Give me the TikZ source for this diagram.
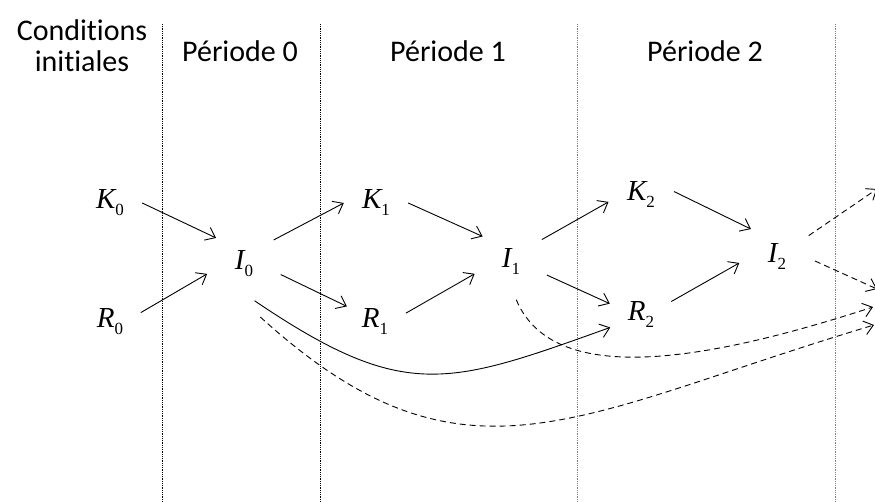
\documentclass[tikz,border=0pt]{standalone}
\usepackage{fontspec}
\setmainfont{Carlito}[Ligatures=NoCommon]
\newfontfamily\timesfont{Liberation Serif}
\usetikzlibrary{arrows.meta, positioning}
\newcommand{\varsub}[2]{{\itshape #1}\raisebox{-7pt}{\fontsize{17}{17}\selectfont #2}}
\tikzset{
    period/.style={font=\fontsize{30}{31}\selectfont, anchor=base},
    var/.style={circle, inner sep=0pt, minimum size=64pt, font=\timesfont\fontsize{29}{29}\selectfont},
    invest/.style={var, minimum size=76pt},
    arr/.style={line width=0.9pt, -{Straight Barb[length=9pt, width=14pt]}},
    dasharr/.style={arr, dash pattern=on 6pt off 4pt},
    sepline/.style={line width=0.9pt, dash pattern=on 0.9pt off 0.9pt}
}

\begin{document}
\begin{tikzpicture}[x=1pt, y=-1pt]
        \useasboundingbox (0,0) rectangle (875,502);

        % Period separators
        \foreach \x/\c in {162/black, 320/black, 577/gray, 835/gray} {
            \draw[sepline, \c] (\x, 24) -- (\x, 502);
        }

        % Headers
        \node[align=center, font=\fontsize{30}{31}\selectfont] (cond) at (82, 46) {Conditions\\initiales};
        \node[period] (p0) at (240, 62) {Période 0};
        \node[period] (p1) at (448, 62) {Période 1};
        \node[period] (p2) at (705, 62) {Période 2};

        % Variables
        \node[var] (K0) at (110, 203) {\varsub{K}{0}};
        \node[var] (R0) at (110, 322) {\varsub{R}{0}};
        \node[invest] (I0) at (244, 264) {\varsub{I}{0}};
        \node[var] (K1) at (376, 203) {\varsub{K}{1}};
        \node[var] (R1) at (375, 322) {\varsub{R}{1}};
        \node[invest] (I1) at (511, 262) {\varsub{I}{1}};
        \node[var, minimum size=66pt] (K2) at (641, 195) {\varsub{K}{2}};
        \node[var, minimum size=66pt] (R2) at (641, 315) {\varsub{R}{2}};
        \node[invest] (I2) at (777, 257) {\varsub{I}{2}};

        % Next period (off the page)
        \coordinate (nxt1) at (877, 189);
        \coordinate (nxt2) at (877, 289);
        \coordinate (nxtA) at (873, 307);
        \coordinate (nxtB) at (874, 325);

        % Arrows
        \draw[arr] (K0.east) -- (I0.137);
        \draw[arr] (R0.17) -- (I0.195);
        \draw[arr] (I0.39) -- (K1.180);
        \draw[arr] (I0.-16) -- (R1.151);
        \draw[arr] (K1.0) -- (I1.138);
        \draw[arr] (R1.16) -- (I1.198);
        \draw[arr] (I1.36) -- (K2.192);
        \draw[arr] (I1.-20) -- (R2.160);
        \draw[arr] (K2.6) -- (I2.133);
        \draw[arr] (R2.24) -- (I2.189);
        \draw[dasharr] (I2.34) -- (nxt1);
        \draw[dasharr] (I2.-6) -- (nxt2);

        % Long-run effects
        \draw[arr] (I0.-74) .. controls (404, 402) and (447, 386) .. (R2.202);
        \draw[dasharr] (I1.-82) .. controls (550, 380) and (680, 370) .. (nxtA);
        \draw[dasharr, shorten <=22pt] (I0.south) .. controls (464, 502) and (573, 415) .. (nxtB);
    \end{tikzpicture}
\end{document}
